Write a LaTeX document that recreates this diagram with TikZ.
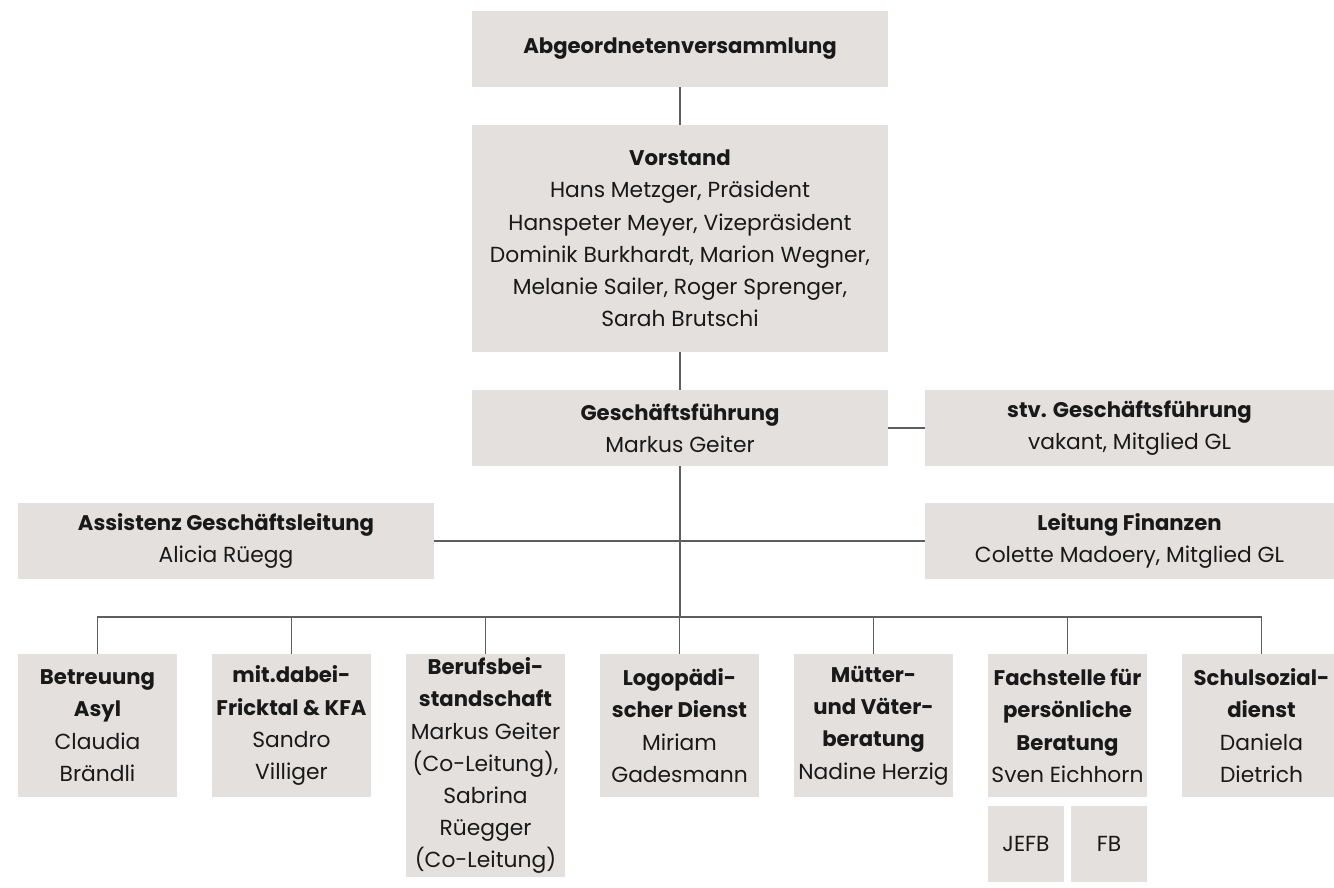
\documentclass[tikz,border=0pt]{standalone}
\usepackage{fontspec}
\setmainfont{Poppins}
\usetikzlibrary{positioning}
\definecolor{boxgray}{HTML}{E4E0DD}
\definecolor{linegray}{HTML}{5E5E5E}
\newcommand{\unitname}[1]{{\fontsize{21.2}{32.2}\selectfont\bfseries #1}}
\begin{document}
\begin{tikzpicture}[x=1pt,y=-1pt,
    orgbox/.style={fill=boxgray, inner sep=0pt, align=center, text=black!90,
      font=\fontsize{21.8}{32.2}\selectfont},
    widebox/.style={orgbox, minimum width=416pt, minimum height=76pt},
    sidebox/.style={orgbox, minimum width=409pt, minimum height=76pt},
    unitbox/.style={orgbox, anchor=north, minimum width=159pt, minimum height=143pt},
    subbox/.style={orgbox, anchor=north, minimum width=76pt, minimum height=76pt},
    link/.style={draw=linegray, line width=1.2pt}]
  \useasboundingbox (0,0) rectangle (1334,888);
  \node[widebox] (abg) at (680,49) {\unitname{Abgeordnetenversammlung}};
  \node[widebox, minimum height=227pt] (vorstand) at (680,238.5) {\unitname{Vorstand}\\
    Hans Metzger, Präsident\\Hanspeter Meyer, Vizepräsident\\
    Dominik Burkhardt, Marion Wegner,\\Melanie Sailer, Roger Sprenger,\\Sarah Brutschi};
  \node[widebox] (gf) at (680,428) {\unitname{Geschäftsführung}\\Markus Geiter};
  \node[sidebox] (stv) at (1129.5,428) {\unitname{stv. Geschäftsführung}\\vakant, Mitglied GL};
  \node[widebox] (assist) at (226,541) {\unitname{Assistenz Geschäftsleitung}\\Alicia Rüegg};
  \node[sidebox] (finanzen) at (1129.5,541) {\unitname{Leitung Finanzen}\\Colette Madoery, Mitglied GL};
  \node[unitbox] (asyl) at (97.5,654) {\unitname{Betreuung}\\\unitname{Asyl}\\Claudia\\Brändli};
  \node[unitbox] (mitdabei) at (291.5,654) {\unitname{mit.dabei-}\\\unitname{Fricktal \& KFA}\\Sandro\\Villiger};
  \node[unitbox, minimum height=223pt] (beistand) at (485.5,654) {\unitname{Berufsbei-}\\\unitname{standschaft}\\
    Markus Geiter\\(Co-Leitung),\\Sabrina\\Rüegger\\(Co-Leitung)};
  \node[unitbox] (logo) at (679.5,654) {\unitname{Logopädi-}\\\unitname{scher Dienst}\\Miriam\\Gadesmann};
  \node[unitbox] (mvb) at (873.5,654) {\unitname{Mütter-}\\\unitname{und Väter-}\\\unitname{beratung}\\Nadine Herzig};
  \node[unitbox] (fachstelle) at (1067.5,654) {\unitname{Fachstelle für}\\\unitname{persönliche}\\\unitname{Beratung}\\Sven Eichhorn};
  \node[unitbox] (schulsoz) at (1261.5,654) {\unitname{Schulsozial-}\\\unitname{dienst}\\Daniela\\Dietrich};
  \node[subbox] (jefb) at (1026,806) {JEFB};
  \node[subbox] (fb) at (1109,806) {FB};
  \coordinate (bus) at (680,617);
  \draw[link] (abg) -- (vorstand);
  \draw[link] (vorstand) -- (gf);
  \draw[link] (gf) -- (stv);
  \draw[link] (gf) -- (bus);
  \draw[link] (assist) -- (finanzen);
  \foreach \unit in {asyl,mitdabei,beistand,logo,mvb,fachstelle,schulsoz}
    \draw[link] (\unit.north) |- (bus);
\end{tikzpicture}
\end{document}
